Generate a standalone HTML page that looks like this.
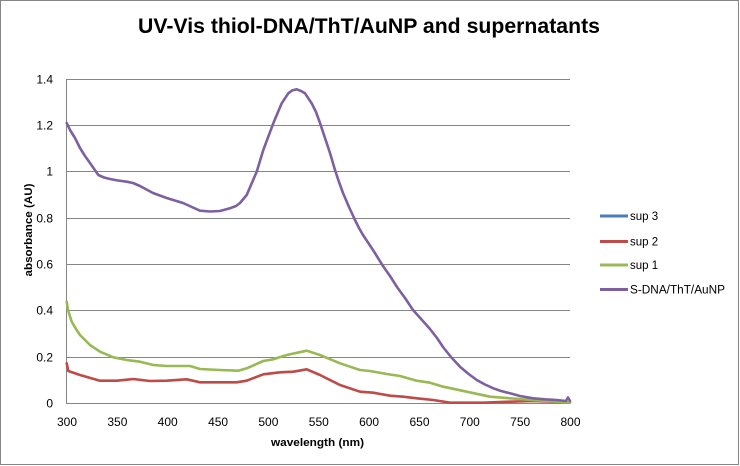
<!DOCTYPE html>
<html><head><meta charset="utf-8"><style>
html,body{margin:0;padding:0;background:#fff;}
svg{display:block;}
text{font-family:"Liberation Sans",sans-serif;fill:#000;}
</style></head><body>
<svg width="740" height="466" viewBox="0 0 740 466" xmlns="http://www.w3.org/2000/svg">
<rect x="0.5" y="0.5" width="738" height="464" fill="#fff" stroke="#868686" stroke-width="1"/>
<text x="369" y="33" text-anchor="middle" font-size="21" font-weight="bold" textLength="462" lengthAdjust="spacingAndGlyphs">UV-Vis thiol-DNA/ThT/AuNP and supernatants</text>
<g stroke="#868686" stroke-width="1">
<line x1="66.5" y1="79.5" x2="570" y2="79.5"/>
<line x1="66.5" y1="125.5" x2="570" y2="125.5"/>
<line x1="66.5" y1="171.5" x2="570" y2="171.5"/>
<line x1="66.5" y1="218.5" x2="570" y2="218.5"/>
<line x1="66.5" y1="264.5" x2="570" y2="264.5"/>
<line x1="66.5" y1="310.5" x2="570" y2="310.5"/>
<line x1="66.5" y1="357.5" x2="570" y2="357.5"/>
<line x1="66.5" y1="403.5" x2="570" y2="403.5"/>
<line x1="66.5" y1="79" x2="66.5" y2="404"/>
</g>
<g font-size="12" text-anchor="end">
<text x="53" y="83.5">1.4</text>
<text x="53" y="129.5">1.2</text>
<text x="53" y="175.5">1</text>
<text x="53" y="222.5">0.8</text>
<text x="53" y="268.5">0.6</text>
<text x="53" y="314.5">0.4</text>
<text x="53" y="361.5">0.2</text>
<text x="53" y="407.5">0</text>
</g>
<g font-size="12" text-anchor="middle">
<text x="67" y="426">300</text>
<text x="117.4" y="426">350</text>
<text x="167.7" y="426">400</text>
<text x="218.1" y="426">450</text>
<text x="268.4" y="426">500</text>
<text x="318.8" y="426">550</text>
<text x="369.1" y="426">600</text>
<text x="419.5" y="426">650</text>
<text x="469.8" y="426">700</text>
<text x="520.2" y="426">750</text>
<text x="570.5" y="426">800</text>
</g>
<text x="317.5" y="446" font-size="11" font-weight="bold" text-anchor="middle" textLength="93" lengthAdjust="spacingAndGlyphs">wavelength (nm)</text>
<text transform="translate(32,230) rotate(-90)" font-size="11" font-weight="bold" text-anchor="middle" textLength="93" lengthAdjust="spacingAndGlyphs">absorbance (AU)</text>
<g fill="none" stroke-width="2.6" stroke-linejoin="round" stroke-linecap="round">
<polyline stroke="#BE4B48" points="66.7,363.3 68.3,371 80,375 100,380.7 116.7,380.7 133.3,379 150,381 166.7,380.7 186.7,379.3 200,382.3 236.7,382.3 246.7,380.7 263.3,374.3 280,372.3 293.3,371.7 306.7,369.3 320,375 340,385 360,391.7 373.3,392.7 390,395.7 403.3,396.7 416.7,398.3 433.3,400 450,402.7 483,402.7 510,401.7 533,401 553,401.7 570,402.7"/>
<polyline stroke="#98B954" points="66.7,301.7 68,310 71.7,321.7 76,329 80,335 90,345 100,351.7 113.3,357.3 126.7,360 140,361.7 153.3,365 166.7,366 183.3,366 190,366 200,369 220,370 238.3,370.7 246.7,368.3 263.3,361 273.3,359.3 286.7,355 306.7,350.7 320,355 340,363.3 360,370 370,371 386.7,374 400,376 416.7,380.7 430,382.7 443.3,386.7 466.7,391.7 490,396.7 510,398.3 533,400 556.7,401.7 570,402.7"/>
<polyline stroke="#7D60A0" points="66.7,123 70,130 75,138 80,148 85,156 90,163 98.3,175 104,177.5 110,179 118,180.5 126.7,181.7 133,183 140,186 153,193 166.7,198 183,203 200,210.7 210,211.5 220,211 230,208.3 236,206 240,203 246.7,195 251,185 256.7,171.7 263.3,150 273.3,123.3 281.7,103.3 288.3,93.3 292,90.5 296.7,89.3 301,91 305,93.3 311.7,103.3 316,112 320,123 325,138 330,153 335,170 339,182 343,193 349,207 355,220 359,228 363,235 373,250 383,266 390,276 397,287 405,298 413,310 422,320 430,329 437,338 443,347 451,357 460,366.7 468,373.5 476.7,380 485,384.5 493.3,388.3 501,391 510,393.3 520,396 533,398.3 545,399.3 556.7,400 566,401 568,397.5 570,401"/>
</g>
<g stroke-width="3">
<line x1="600" y1="216" x2="628" y2="216" stroke="#4A7EBB"/>
<line x1="600" y1="241.5" x2="628" y2="241.5" stroke="#BE4B48"/>
<line x1="600" y1="265" x2="628" y2="265" stroke="#98B954"/>
<line x1="600" y1="289.5" x2="628" y2="289.5" stroke="#7D60A0"/>
</g>
<g font-size="11.5">
<text x="630" y="220">sup 3</text>
<text x="630" y="245.5">sup 2</text>
<text x="630" y="269">sup 1</text>
<text x="630" y="293.5" textLength="95" lengthAdjust="spacingAndGlyphs">S-DNA/ThT/AuNP</text>
</g>
</svg>
</body></html>
